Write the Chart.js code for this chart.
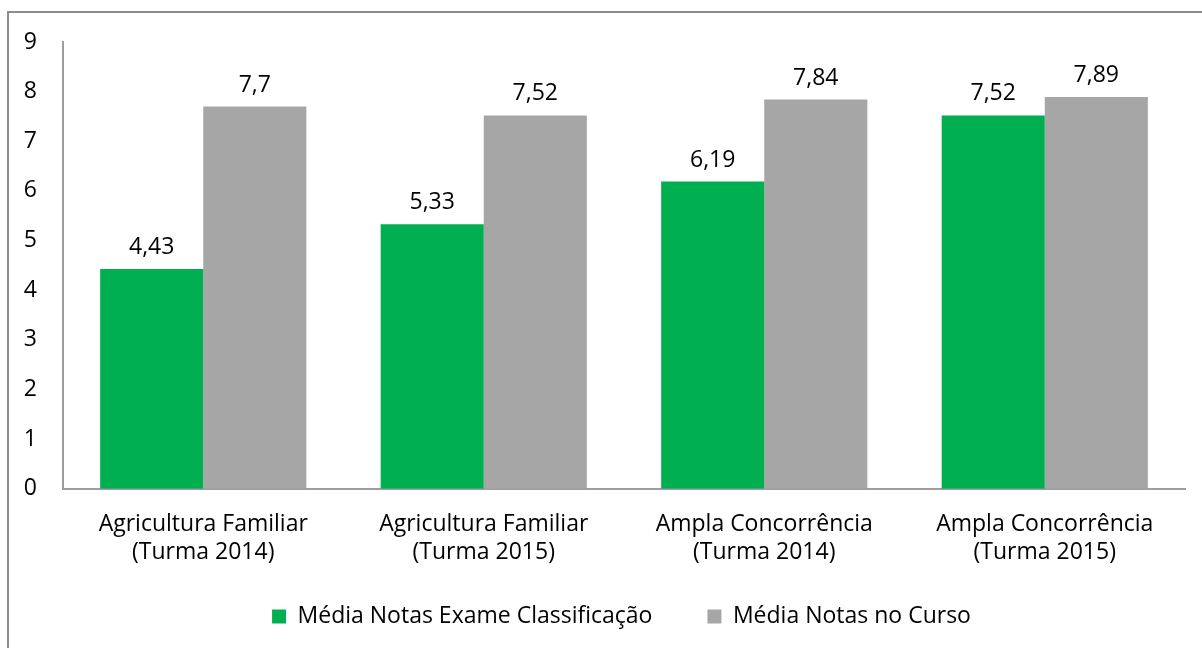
<!DOCTYPE html>
<html>
<head>
<meta charset="utf-8">
<script src="https://cdn.jsdelivr.net/npm/chart.js@4.4.1/dist/chart.umd.min.js"></script>
<style>
  html, body { margin: 0; padding: 0; background: #fff; }
  #wrap { position: relative; width: 1202px; height: 648px; overflow: hidden; }
  #frame { position: absolute; left: 7px; top: 11px; width: 1300px; height: 800px; border: 2px solid #8c8c8c; box-sizing: border-box; }
  canvas { position: absolute; left: 0; top: 0; }
</style>
</head>
<body>
<div id="wrap">
  <div id="frame"></div>
  <canvas id="chart" width="1202" height="648"></canvas>
</div>
<script>
'use strict';

// ─── Dados ───────────────────────────────────────────────────────────────────
const categorias = [
  ['Agricultura Familiar', '(Turma 2014)'],
  ['Agricultura Familiar', '(Turma 2015)'],
  ['Ampla Concorrência', '(Turma 2014)'],
  ['Ampla Concorrência', '(Turma 2015)'],
];
const mediaExame = [4.43, 5.33, 6.19, 7.52];
const mediaCurso = [7.7, 7.52, 7.84, 7.89];
const nomesSeries = ['Média Notas Exame Classificação', 'Média Notas no Curso'];

const VERDE = '#00b050';
const CINZA = '#a6a6a6';
const FONTE = "'Open Sans', sans-serif";
const TAM = 23;

// Rótulos de valor acima das barras (formato pt-BR, vírgula)
const rotulosPlugin = {
  id: 'rotulos',
  afterDatasetsDraw(chart) {
    const ctx = chart.ctx;
    ctx.save();
    ctx.font = TAM + 'px ' + FONTE;
    ctx.fillStyle = '#000';
    ctx.textAlign = 'center';
    ctx.textBaseline = 'alphabetic';
    chart.data.datasets.forEach((ds, i) => {
      chart.getDatasetMeta(i).data.forEach((bar, j) => {
        const txt = String(ds.data[j]).replace('.', ',');
        ctx.fillText(txt, bar.x, bar.y - 15);
      });
    });
    ctx.restore();
  },
};

// A legenda precisa de espaço largo entre itens mas fica mais perto do eixo
const legendaPlugin = {
  id: 'ajusteLegenda',
  afterLayout(chart) {
    const lg = chart.legend;
    if (!lg) return;
    lg.top -= 38;
    lg.bottom -= 38;
    lg.left += 25;
    lg.right += 25;
  },
};

new Chart(document.getElementById('chart'), {
  type: 'bar',
  data: {
    labels: categorias,
    datasets: [
      { label: nomesSeries[0], data: mediaExame, backgroundColor: VERDE },
      { label: nomesSeries[1], data: mediaCurso, backgroundColor: CINZA },
    ],
  },
  options: {
    responsive: false,
    animation: false,
    layout: { padding: { left: 8, right: 17, top: 42, bottom: -28 } },
    datasets: { bar: { categoryPercentage: 0.735, barPercentage: 1 } },
    scales: {
      x: {
        grid: { display: false, drawTicks: false },
        border: { display: true, color: '#9e9e9e', width: 2 },
        ticks: { color: '#000', font: { family: FONTE, size: TAM, lineHeight: 1.2 }, padding: 22, maxRotation: 0 },
      },
      y: {
        min: 0,
        max: 9,
        grid: { display: false, drawTicks: false },
        border: { display: true, color: '#9e9e9e', width: 2 },
        ticks: { stepSize: 1, color: '#000', font: { family: FONTE, size: TAM }, padding: 26 },
        afterFit(scale) { scale.width = 55; },
      },
    },
    plugins: {
      legend: {
        position: 'bottom',
        labels: {
          color: '#000',
          font: { family: FONTE, size: TAM },
          boxWidth: 14,
          boxHeight: 14,
          padding: 55,
        },
      },
      tooltip: { enabled: false },
    },
  },
  plugins: [rotulosPlugin, legendaPlugin],
});
</script>
</body>
</html>
